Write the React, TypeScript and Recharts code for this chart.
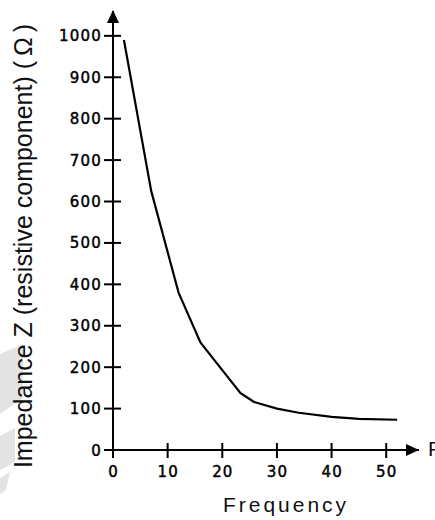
import { LineChart, Line, XAxis, YAxis, ReferenceDot } from 'recharts';

// impedance curve
const frequency = [2, 7, 12, 16, 20, 23.3, 25.8, 30, 34, 40, 45, 52];
const impedance = [990, 625, 380, 260, 193, 138, 116, 100, 90, 80, 75, 73];
const xTicks = [0, 10, 20, 30, 40, 50];
const yTicks = [0, 100, 200, 300, 400, 500, 600, 700, 800, 900, 1000];

const data = frequency.map((f, i) => ({ f, z: impedance[i] }));

const tickFont = { fontFamily: '"DejaVu Sans", Verdana, sans-serif', fontSize: 15, letterSpacing: 1.2 };

function YTick(props: any) {
    const { x, y, payload } = props;
    return (
        <g>
            <line x1={x - 9} x2={x + 8} y1={y} y2={y} stroke="#000" strokeWidth={2} />
            <text x={x - 11} y={y + 5.5} textAnchor="end" fill="#000" stroke="#000" strokeWidth={0.45} style={tickFont}>
                {payload.value}
            </text>
        </g>
    );
}

function XTick(props: any) {
    const { x, y, payload } = props;
    return (
        <g>
            <line x1={x} x2={x} y1={y - 7} y2={y + 8} stroke="#000" strokeWidth={2} />
            <text x={x + 0.6} y={y + 27} textAnchor="middle" fill="#000" stroke="#000" strokeWidth={0.45} style={tickFont}>
                {payload.value}
            </text>
        </g>
    );
}

const rightArrow = (p: any) => (
    <polygon points={`${p.cx},${p.cy} ${p.cx - 13},${p.cy - 6} ${p.cx - 13},${p.cy + 6}`} fill="#000" />
);

const upArrow = (p: any) => (
    <polygon points={`${p.cx},${p.cy - 1} ${p.cx - 6},${p.cy + 12} ${p.cx + 6},${p.cy + 12}`} fill="#000" />
);

export default function App() {
    return (
        <div style={{ position: 'absolute', left: 0, top: 0, width: 435, height: 520, background: '#fff' }}>
            <svg width={435} height={520} style={{ position: 'absolute', left: 0, top: 0 }}>
                {/* faint watermark in the corner */}
                <polygon points="0,354 23,344 23,398 0,414" fill="#e3e3e3" />
                <polygon points="0,436 15,428 15,462 0,470" fill="#e3e3e3" />
                <polygon points="0,478 10,472 6,490 0,494" fill="#e3e3e3" />
            </svg>
            <LineChart
                width={435}
                height={520}
                data={data}
                margin={{ top: 11, right: 16, bottom: 0, left: 53 }}
                style={{ position: 'absolute', left: 0, top: 0 }}
            >
                <XAxis
                    dataKey="f"
                    type="number"
                    domain={[0, 56]}
                    ticks={xTicks}
                    height={70}
                    tickSize={0}
                    tickMargin={0}
                    tickLine={false}
                    axisLine={{ stroke: '#000', strokeWidth: 2 }}
                    tick={<XTick />}
                />
                <YAxis
                    type="number"
                    domain={[0, 1060]}
                    ticks={yTicks}
                    width={60}
                    tickSize={0}
                    tickMargin={0}
                    tickLine={false}
                    axisLine={{ stroke: '#000', strokeWidth: 2 }}
                    tick={<YTick />}
                />
                <Line
                    type="linear"
                    dataKey="z"
                    stroke="#000"
                    strokeWidth={2.2}
                    dot={false}
                    isAnimationActive={false}
                />
                <ReferenceDot x={56} y={0} r={0} shape={rightArrow} ifOverflow="visible" />
                <ReferenceDot x={0} y={1060} r={0} shape={upArrow} ifOverflow="visible" />
            </LineChart>
            <svg width={435} height={520} style={{ position: 'absolute', left: 0, top: 0, pointerEvents: 'none' }}>
                <text
                    x={32}
                    y={246}
                    transform="rotate(-90, 32, 246)"
                    textAnchor="middle"
                    fill="#111"
                    style={{ fontFamily: '"Liberation Sans", Arial, sans-serif', fontSize: 25 }}
                >
                    Impedance Z (resistive component) ({'\u2009'}Ω{'\u2009'})
                </text>
                <text
                    x={286}
                    y={512}
                    textAnchor="middle"
                    fill="#111"
                    style={{ fontFamily: '"Liberation Sans", Arial, sans-serif', fontSize: 21, letterSpacing: 3 }}
                >
                    Frequency
                </text>
                <text x={428} y={456} fill="#111" style={{ fontFamily: '"Liberation Sans", Arial, sans-serif', fontSize: 21 }}>
                    F
                </text>
            </svg>
        </div>
    );
}
